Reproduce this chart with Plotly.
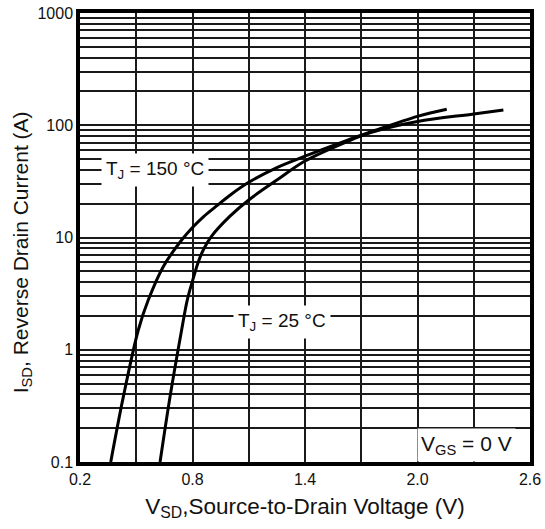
import numpy as np
import plotly.graph_objects as go

# Source-to-drain diode forward characteristic, two junction temperatures
vsd_150 = [0.364, 0.431, 0.511, 0.564, 0.644, 0.742, 0.80, 0.858, 0.93, 1.00, 1.10, 1.25, 1.40, 1.62, 1.75, 2.00, 2.156]
isd_150 = [0.1, 0.38, 1.5, 2.77, 5.5, 9.5, 12.3, 15.3, 19.2, 23.8, 31.0, 42.0, 53.0, 73.0, 87.0, 120.0, 139.0]

vsd_25 = [0.627, 0.68, 0.742, 0.772, 0.80, 0.83, 0.86, 0.90, 1.00, 1.10, 1.25, 1.40, 1.62, 1.75, 2.00, 2.30, 2.458]
isd_25 = [0.1, 0.38, 1.5, 2.77, 4.1, 6.0, 7.9, 10.2, 15.5, 21.6, 32.5, 48.0, 71.0, 86.0, 108.0, 126.0, 137.0]

# Axis ticks and grid
x_major = [0.2, 0.8, 1.4, 2.0, 2.6]
x_major_text = ["0.2", "0.8", "1.4", "2.0", "2.6"]
x_minor = [0.5, 1.1, 1.7, 2.3]

y_major = [0.1, 1, 10, 100, 1000]
y_major_text = ["0.1", "1", "10", "100", "1000"]
y_minor = [round(d * m, 6) for d in y_major[:-1] for m in range(2, 10)]

ink = "#111111"
font_main = "Liberation Sans, Arial, sans-serif"
grid_col = "#1a1a1a"

fig = go.Figure()
for vx, iy in ((vsd_150, isd_150), (vsd_25, isd_25)):
    fig.add_trace(go.Scatter(x=vx, y=iy, mode="lines",
                             line=dict(color="black", width=3, shape="spline", smoothing=1.0),
                             showlegend=False, hoverinfo="skip"))

ann_font = dict(family=font_main, size=19, color=ink)
fig.add_annotation(x=0.6, y=np.log10(39.9), text="T<sub>J</sub> = 150 °C",
                   showarrow=False, bgcolor="white", font=ann_font, borderpad=4)
fig.add_annotation(x=1.277, y=np.log10(1.77), text="T<sub>J</sub> = 25 °C",
                   showarrow=False, bgcolor="white", font=ann_font, borderpad=4)
fig.add_annotation(x=2.26, y=np.log10(0.142), text="V<sub>GS</sub> = 0 V",
                   showarrow=False, bgcolor="white",
                   font=dict(family=font_main, size=21, color=ink), borderpad=3)

# Vertical axis title
fig.add_annotation(xref="paper", yref="paper", x=-0.13, y=0.466,
                   text="I<sub>SD</sub>, Reverse Drain Current (A)", textangle=-90,
                   showarrow=False, xanchor="center", yanchor="middle",
                   font=dict(family=font_main, size=21, color=ink))

fig.update_xaxes(range=[0.2, 2.6], tickvals=x_major, ticktext=x_major_text,
                 showgrid=True, gridcolor=grid_col, gridwidth=1.6,
                 minor=dict(tickvals=x_minor, showgrid=True, gridcolor=grid_col,
                            gridwidth=1.6, ticks=""),
                 showline=True, linecolor="black", linewidth=3.5, mirror=True,
                 ticks="", zeroline=False, automargin=False,
                 tickfont=dict(family=font_main, size=16, color=ink),
                 title=dict(text="V<sub>SD</sub>,Source-to-Drain Voltage (V)",
                            font=dict(family=font_main, size=22.5, color=ink), standoff=12))
fig.update_yaxes(type="log", range=[-1, 3], tickvals=y_major, ticktext=y_major_text,
                 showgrid=True, gridcolor=grid_col, gridwidth=1.6,
                 minor=dict(tickvals=y_minor, showgrid=True, gridcolor=grid_col,
                            gridwidth=1.6, ticks=""),
                 showline=True, linecolor="black", linewidth=3.5, mirror=True,
                 ticks="", zeroline=False, automargin=False,
                 tickfont=dict(family=font_main, size=16, color=ink))

fig.update_layout(width=545, height=529, margin=dict(l=80, r=15, t=13, b=67),
                  paper_bgcolor="white", plot_bgcolor="white")

fig.write_html("out.html")
